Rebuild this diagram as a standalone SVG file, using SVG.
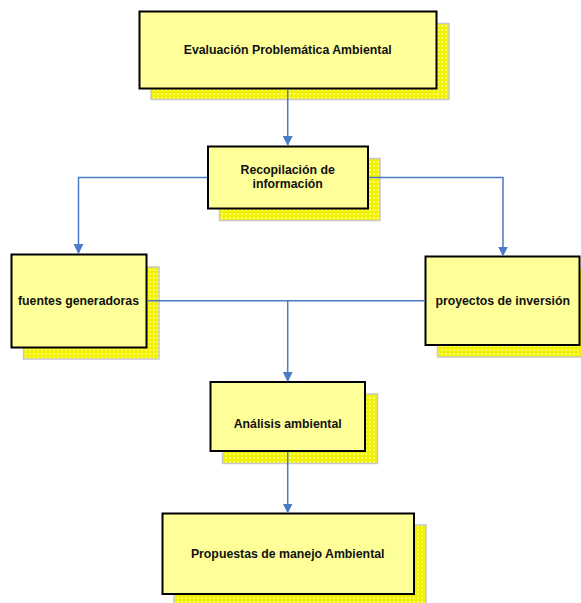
<svg xmlns="http://www.w3.org/2000/svg" width="581" height="603" viewBox="0 0 581 603">
<style>
.box{fill:#FFFF99;stroke:#000;stroke-width:2}
.sh{fill:url(#dots);stroke:#C8C8C8;stroke-width:1.5}
.t{font-family:"Liberation Sans",Arial,sans-serif;font-weight:bold;font-size:12.3px;fill:#111;text-anchor:middle}
.c{fill:none;stroke:#4A7BC6;stroke-width:1.5}
</style>
<defs>
<pattern id="dots" width="4" height="4" patternUnits="userSpaceOnUse">
<rect width="4" height="4" fill="#F2F200"/>
<circle cx="2" cy="2" r="1.1" fill="#FFFF80"/>
</pattern>
<marker id="arr" markerWidth="10" markerHeight="10" refX="9" refY="5" orient="auto" markerUnits="userSpaceOnUse">
<path d="M0,0 L10,5 L0,10 Z" fill="#4A7BC6"/>
</marker>
</defs>
<g id="n1">
<rect class="sh" x="151" y="23.5" width="298" height="76"/>
<rect class="box" x="139.5" y="11.5" width="297" height="77"/>
<text class="t" x="287.7" y="54">Evaluación Problemática Ambiental</text>
</g>
<g id="n2">
<rect class="sh" x="219.5" y="158.5" width="160.5" height="62"/>
<rect class="box" x="208" y="146.5" width="160" height="62"/>
<text class="t" x="287.7" y="174">Recopilación de</text>
<text class="t" x="287.7" y="188">información</text>
</g>
<g id="n3">
<rect class="sh" x="23.5" y="267" width="135.5" height="92"/>
<rect class="box" x="11.5" y="254.5" width="135" height="93"/>
<text class="t" x="78.5" y="304.5">fuentes generadoras</text>
</g>
<g id="n4">
<rect class="sh" x="437.5" y="268" width="150" height="89"/>
<rect class="box" x="425.5" y="256.5" width="154" height="88.5"/>
<text class="t" x="502.7" y="304.5">proyectos de inversión</text>
</g>
<g id="n5">
<rect class="sh" x="222.5" y="394" width="155" height="69.5"/>
<rect class="box" x="210.5" y="382" width="154.5" height="69"/>
<text class="t" x="287.7" y="428">Análisis ambiental</text>
</g>
<g id="n6">
<rect class="sh" x="174" y="525" width="252" height="85"/>
<rect class="box" x="162.5" y="513.5" width="251.5" height="80.5"/>
<text class="t" x="287.7" y="557.5">Propuestas de manejo Ambiental</text>
</g>
<g id="connectors">
<path class="c" d="M287.7,89 V145" marker-end="url(#arr)"/>
<path class="c" d="M207,177.5 H78.5 V253" marker-end="url(#arr)"/>
<path class="c" d="M369,177.5 H503 V255.5" marker-end="url(#arr)"/>
<path class="c" d="M147.5,300.8 H424.5"/>
<path class="c" d="M287.7,300.8 V381" marker-end="url(#arr)"/>
<path class="c" d="M287.7,452 V512.5" marker-end="url(#arr)"/>
</g>
</svg>
